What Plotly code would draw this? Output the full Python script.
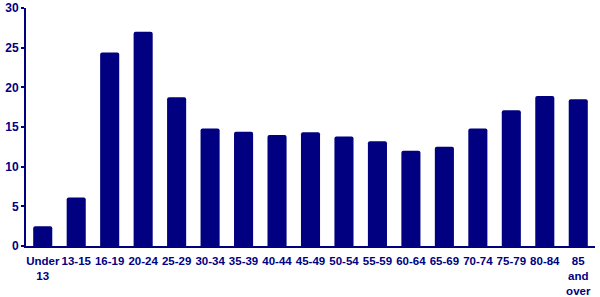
import plotly.graph_objects as go

categories = ["Under<br>13", "13-15", "16-19", "20-24", "25-29", "30-34", "35-39", "40-44",
              "45-49", "50-54", "55-59", "60-64", "65-69", "70-74", "75-79", "80-84",
              "85<br>and<br>over"]
values = [2.5, 6.1, 24.4, 27.0, 18.75, 14.8, 14.4, 14.0, 14.35, 13.8, 13.2, 12.0, 12.5,
          14.8, 17.1, 18.9, 18.5]
y_ticks = [0, 5, 10, 15, 20, 25, 30]

navy = "#000080"
font_fam = "Liberation Sans, Arial"
fig = go.Figure(go.Bar(x=categories, y=values, marker=dict(color=navy, line=dict(width=0), cornerradius=2)))
fig.update_layout(
    width=600, height=297,
    margin=dict(l=26, r=5, t=8, b=51, autoexpand=False),
    plot_bgcolor="white", paper_bgcolor="white",
    bargap=0.43,
    showlegend=False,
    font=dict(family=font_fam, size=12, color=navy),
)
fig.update_yaxes(range=[0, 30], tickvals=y_ticks, showgrid=False, zeroline=False,
                 showline=True, linecolor=navy, linewidth=2, automargin=False,
                 ticks="outside", ticklen=3, tickwidth=2, tickcolor=navy,
                 tickfont=dict(family=font_fam, size=12, color=navy, weight="bold"))
fig.update_xaxes(showgrid=False, showline=True, linecolor=navy, linewidth=2, ticks="",
                 tickangle=0, automargin=False, ticklabelstandoff=3,
                 tickfont=dict(family=font_fam, size=11.5, color=navy, weight="bold"))
fig.write_html("out.html")
